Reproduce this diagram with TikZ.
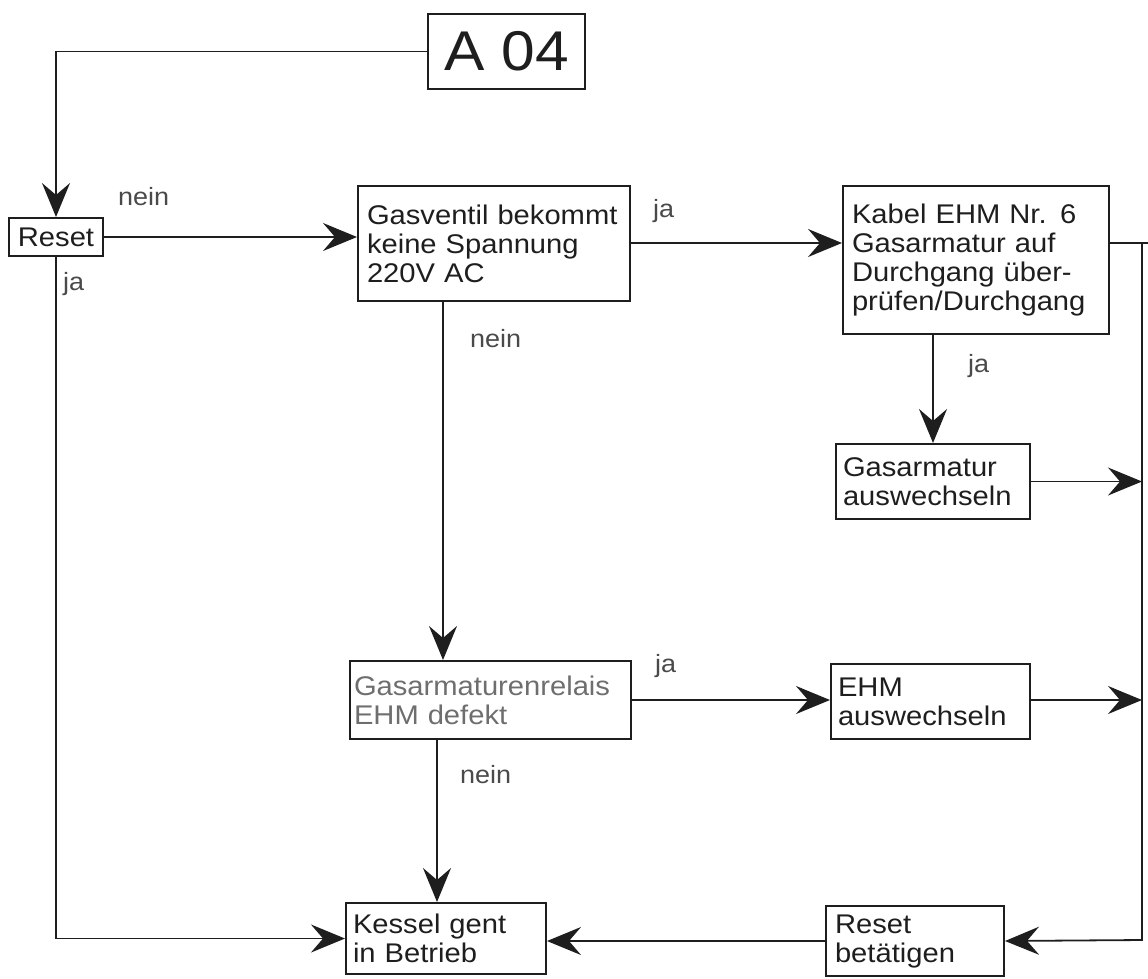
\documentclass[tikz,border=0pt]{standalone}
\usepackage{fontspec}
\setmainfont{Liberation Sans}[FakeStretch=1.08]
\usetikzlibrary{arrows.meta}
\definecolor{ink}{HTML}{1E1E1E}
\definecolor{faint}{HTML}{6E6E6E}
\definecolor{lbl}{HTML}{4A4A4A}
\tikzset{
  box/.style={draw=ink, line width=2pt, anchor=north west, inner xsep=9pt, inner ysep=0pt,
    align=left, text=ink, font=\fontsize{27}{29}\selectfont},
  lab/.style={anchor=base west, inner sep=0pt, text=lbl, font=\fontsize{25}{27}\selectfont},
  conn/.style={draw=ink, line width=1.8pt},
  arr/.style={conn, -{Stealth[length=34pt,width=28pt,inset=12pt]}}
}
\begin{document}
\begin{tikzpicture}[x=1pt,y=-1pt]
\useasboundingbox (0,0) rectangle (1148,978);
% nodes
\node[box, minimum width=157pt, minimum height=75pt, align=center, font=\fontsize{56}{60}\selectfont] (a04) at (427,13) {A 04};
\node[box, minimum width=94pt, minimum height=38pt, inner xsep=6pt] (reset) at (8,217) {Reset};
\node[box, minimum width=272pt, minimum height=115pt, text width=254pt] (gv) at (357,185) {Gasventil bekommt\\keine Spannung\\220V AC};
\node[box, minimum width=266pt, minimum height=148pt, text width=248pt] (kab) at (842,185) {Kabel EHM Nr. 6\\Gasarmatur auf\\Durchgang über-\\prüfen/Durchgang};
\node[box, minimum width=194pt, minimum height=75pt, text width=180pt, inner xsep=7pt] (ga) at (835,443) {Gasarmatur\\auswechseln};
\node[box, minimum width=281pt, minimum height=78pt, text width=273pt, inner xsep=4pt, text=faint] (rel) at (349,660) {Gasarmaturenrelais\\EHM defekt};
\node[box, minimum width=199pt, minimum height=75pt, text width=185pt, inner xsep=7pt] (ehm) at (830,663) {EHM\\auswechseln};
\node[box, minimum width=200pt, minimum height=71pt, text width=186pt, inner xsep=7pt] (kes) at (345,902) {Kessel gent\\in Betrieb};
\node[box, minimum width=178pt, minimum height=70pt, text width=160pt, inner xsep=9pt] (rb) at (825,905) {Reset\\betätigen};
% helper coordinates
\coordinate (r1) at (1142,243);
\coordinate (r2) at (1142,940);
\coordinate (rend) at (1148,243);
% connectors
\draw[arr] (a04.west) -| (reset.north);
\draw[arr] (reset.east) -- (reset.east -| gv.west);
\draw[arr] (reset.south) |- (kes.west);
\draw[arr] (gv.east |- 0,243) -- (kab.west |- 0,243);
\draw[arr] (ga.north |- kab.south) -- (ga.north);
\draw[conn] ([yshift=-58pt]kab.north east) -- (rend);
\draw[arr] (r1) -- (r2) -- (rb.east);
\draw[arr] (ga.east) -- (ga.east -| r1);
\draw[arr] ([xshift=86pt]gv.south west) -- ([xshift=94pt]rel.north west);
\draw[arr] (rel.east |- 0,700) -- (ehm.west |- 0,700);
\draw[arr] (ehm.east |- 0,700) -- (r1 |- 0,700);
\draw[arr] ([xshift=88pt]rel.south west) -- ([xshift=92pt]kes.north west);
\draw[arr] (rb.west) -- (rb.west -| kes.east);
% labels
\node[lab] (l1) at (118,205) {nein};
\node[lab] (l2) at (63,290) {ja};
\node[lab] (l3) at (653,217) {ja};
\node[lab] (l4) at (470,347) {nein};
\node[lab] (l5) at (968,372) {ja};
\node[lab] (l6) at (655,672) {ja};
\node[lab] (l7) at (460,783) {nein};
\end{tikzpicture}
\end{document}
